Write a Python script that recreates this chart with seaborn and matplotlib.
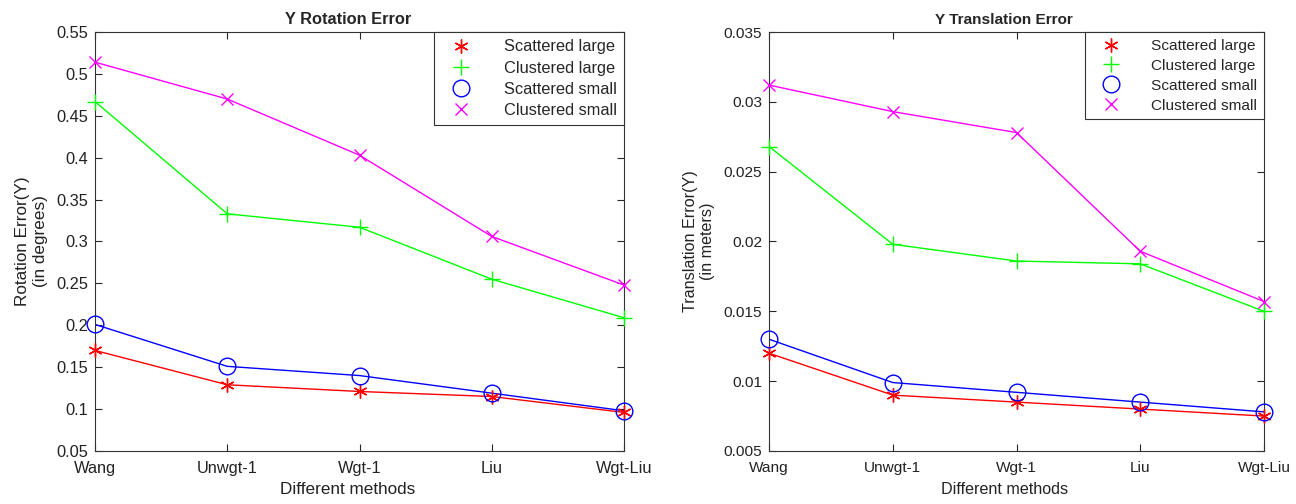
import numpy as np
import pandas as pd
import seaborn as sns
from matplotlib import pyplot as plt

methods = ['Wang', 'Unwgt-1', 'Wgt-1', 'Liu', 'Wgt-Liu']
series_names = ['Scattered large', 'Clustered large', 'Scattered small', 'Clustered small']

rot_scattered_large = [0.170, 0.129, 0.121, 0.115, 0.096]
rot_clustered_large = [0.467, 0.333, 0.317, 0.255, 0.209]
rot_scattered_small = [0.201, 0.151, 0.140, 0.119, 0.098]
rot_clustered_small = [0.514, 0.470, 0.403, 0.306, 0.248]

trans_scattered_large = [0.0120, 0.0090, 0.0085, 0.0080, 0.0075]
trans_clustered_large = [0.0268, 0.0198, 0.0186, 0.0184, 0.0150]
trans_scattered_small = [0.0130, 0.0099, 0.0092, 0.0085, 0.0078]
trans_clustered_small = [0.0312, 0.0293, 0.0278, 0.0193, 0.0157]

rot_ticks = [0.05, 0.1, 0.15, 0.2, 0.25, 0.3, 0.35, 0.4, 0.45, 0.5, 0.55]
rot_ticklabels = ['0.05', '0.1', '0.15', '0.2', '0.25', '0.3', '0.35', '0.4', '0.45', '0.5', '0.55']
trans_ticks = [0.005, 0.01, 0.015, 0.02, 0.025, 0.03, 0.035]
trans_ticklabels = ['0.005', '0.01', '0.015', '0.02', '0.025', '0.03', '0.035']

colors = ['#ff0000', '#00ff00', '#0000ff', '#ff00ff']
# asterisk, plus, open circle, cross
markers = [(6, 2, 0), '+', 'o', 'x']
marker_sizes = [10, 12, 12, 8]

sns.set_style('ticks')
plt.rcParams['font.family'] = ['Liberation Sans', 'DejaVu Sans']


def marker_kw(c, m, ms):
    if m == 'o':
        return dict(marker='o', markersize=ms, markerfacecolor='none',
                    markeredgecolor=c, markeredgewidth=1)
    return dict(marker=m, markersize=ms, color=c, markeredgewidth=1)


def draw_panel(ax, values, title, ylabel, yticks, yticklabels, fs, text_x):
    x = np.arange(len(methods))
    for name, vals, c, m, ms in zip(series_names, values, colors, markers, marker_sizes):
        df = pd.DataFrame({'x': x, 'y': vals})
        sns.lineplot(data=df, x='x', y='y', ax=ax, color=c, linewidth=1,
                     label=name, legend=False)
        ax.plot(x, vals, linestyle='none', clip_on=False, zorder=3, **marker_kw(c, m, ms))
    ax.set_xlim(0, len(methods) - 1)
    ax.set_ylim(yticks[0], yticks[-1])
    ax.set_xticks(x)
    ax.set_xticklabels(methods)
    ax.set_yticks(yticks)
    ax.set_yticklabels(yticklabels)
    ax.tick_params(direction='in', top=True, right=True, length=5, width=0.8,
                   labelsize=fs, labelcolor='#222222')
    ax.tick_params(axis='x', pad=7)
    ax.tick_params(axis='y', pad=5)
    for s in ax.spines.values():
        s.set_visible(True)
        s.set_linewidth(0.8)
        s.set_color('#333333')
    ax.set_title(title, fontweight='bold', fontsize=fs, pad=6, x=text_x)
    ax.set_xlabel('Different methods', fontsize=fs + 0.5, labelpad=2, color='#222222')
    ax.xaxis.set_label_coords(text_x, -0.075)
    ax.set_ylabel(ylabel, fontsize=fs + 0.5, labelpad=6, color='#222222')

    handles = []
    for name, c, m, ms in zip(series_names, colors, markers, marker_sizes):
        h, = ax.plot([], [], linestyle='none', **marker_kw(c, m, ms))
        handles.append(h)
    leg = ax.legend(handles, series_names, loc='upper right', fancybox=False,
                    framealpha=1, edgecolor='#333333', fontsize=fs,
                    borderaxespad=0, handletextpad=1.4, labelspacing=0.38,
                    borderpad=0.45, handlelength=2.4)
    leg.get_frame().set_linewidth(0.8)


fig = plt.figure(figsize=(12.96, 5.04), dpi=100)
ax1 = fig.add_axes([0.0733, 0.1052, 0.4082, 0.8313])
ax2 = fig.add_axes([0.5934, 0.1052, 0.3819, 0.8313])

draw_panel(ax1, [rot_scattered_large, rot_clustered_large, rot_scattered_small, rot_clustered_small],
           'Y Rotation Error', 'Rotation Error(Y)\n(in degrees)', rot_ticks, rot_ticklabels,
           11.8, 0.478)
draw_panel(ax2, [trans_scattered_large, trans_clustered_large, trans_scattered_small, trans_clustered_small],
           'Y Translation Error', 'Translation Error(Y)\n(in meters)', trans_ticks, trans_ticklabels,
           11.1, 0.475)

fig.savefig('out.png', dpi=100)
